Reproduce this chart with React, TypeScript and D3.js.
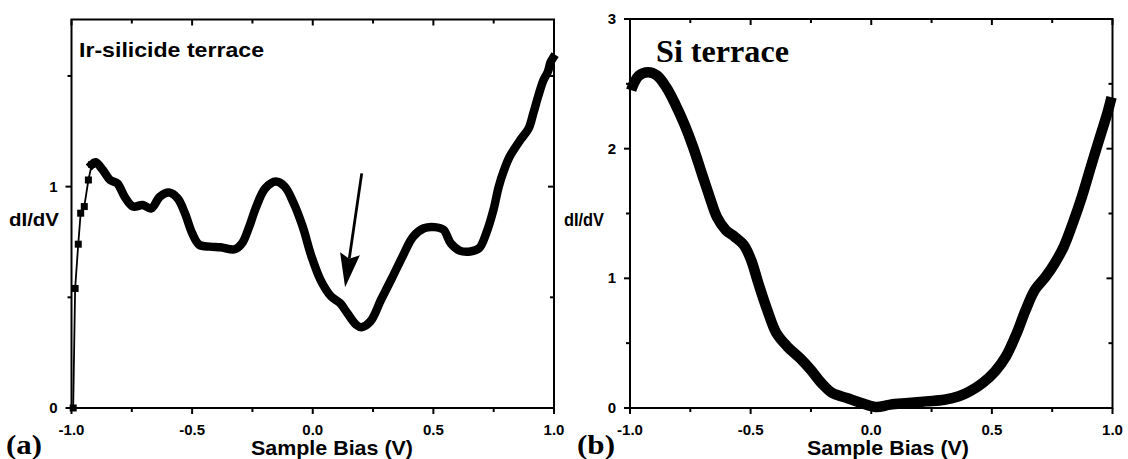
import React from "react";
import * as d3 from "d3";

// ---------- data ----------
const X_MAJOR = [-1, -0.5, 0, 0.5, 1];
const X_LABELS = ["-1.0", "-0.5", "0.0", "0.5", "1.0"];
const X_MINOR = [-0.75, -0.25, 0.25, 0.75];

const LEFT_Y_MAJOR = [0, 1];
const LEFT_Y_LABELS = ["0", "1"];
const LEFT_Y_MINOR = [0.5, 1.5];

const RIGHT_Y_MAJOR = [0, 1, 2, 3];
const RIGHT_Y_LABELS = ["0", "1", "2", "3"];
const RIGHT_Y_MINOR = [0.5, 1.5, 2.5];

// Ir-silicide terrace dI/dV (sparse start, then dense)
const IR_X = [
  -0.993, -0.985, -0.972, -0.962, -0.947, -0.93, -0.916, -0.9,
  -0.87, -0.84, -0.81, -0.78, -0.745, -0.705, -0.67, -0.633, -0.596, -0.56,
  -0.53, -0.5, -0.47, -0.426, -0.382, -0.323, -0.293, -0.263, -0.234, -0.197,
  -0.153, -0.116, -0.079, -0.042, -0.005, 0.032, 0.076, 0.113, 0.143, 0.18,
  0.202, 0.239, 0.283, 0.328, 0.372, 0.416, 0.461, 0.505, 0.542, 0.572,
  0.609, 0.653, 0.69, 0.719, 0.749, 0.771, 0.793, 0.816, 0.86, 0.895,
  0.914, 0.935, 0.956, 0.975, 0.985, 0.995,
];
const IR_Y = [
  0.0, 0.54, 0.74, 0.88, 0.91, 1.03, 1.1, 1.11,
  1.075, 1.03, 1.015, 0.955, 0.91, 0.917, 0.902, 0.955, 0.973, 0.947,
  0.88, 0.79, 0.737, 0.729, 0.726, 0.717, 0.744, 0.82, 0.91, 0.992,
  1.023, 1.0, 0.925, 0.82, 0.684, 0.579, 0.504, 0.474, 0.429, 0.376,
  0.365, 0.391, 0.489, 0.586, 0.684, 0.774, 0.812, 0.817, 0.805, 0.744,
  0.711, 0.707, 0.722, 0.789, 0.895, 1.0, 1.075, 1.135, 1.21, 1.263,
  1.33, 1.41, 1.48, 1.52, 1.56, 1.58,
];
const IR_SPARSE_COUNT = 7; // first points drawn as separate markers

// Si terrace dI/dV
const SI_X = [
  -0.995, -0.985, -0.963, -0.925, -0.888, -0.85, -0.813, -0.775, -0.738, -0.7,
  -0.67, -0.64, -0.603, -0.566, -0.528, -0.498, -0.468, -0.431, -0.393, -0.348,
  -0.296, -0.251, -0.206, -0.161, -0.101, -0.041, 0.019, 0.079, 0.154, 0.228,
  0.303, 0.363, 0.408, 0.461, 0.513, 0.558, 0.603, 0.64, 0.678, 0.723,
  0.76, 0.798, 0.835, 0.873, 0.91, 0.948, 0.978, 0.996,
];
const SI_Y = [
  2.45, 2.5, 2.564, 2.59, 2.564, 2.474, 2.346, 2.19, 2.01, 1.795,
  1.628, 1.474, 1.372, 1.32, 1.256, 1.141, 0.962, 0.756, 0.577, 0.474,
  0.385, 0.295, 0.192, 0.115, 0.077, 0.038, 0.008, 0.026, 0.038, 0.051,
  0.064, 0.09, 0.128, 0.192, 0.282, 0.397, 0.577, 0.756, 0.91, 1.013,
  1.115, 1.244, 1.423, 1.628, 1.859, 2.09, 2.27, 2.397,
];

// arrow annotation in data units (left panel)
const ARROW_FROM = [0.203, 1.06];
const ARROW_TO = [0.134, 0.545];

const SANS = "'Liberation Sans', Arial, sans-serif";
const SERIF = "'Liberation Serif', 'Times New Roman', serif";

type Box = { x0: number; x1: number; y0: number; y1: number };

function Frame({
  box, x, y, yMajor, yLabels, yMinor, yTitle, yTitleLen, xTitleX,
}: any) {
  const MAJ = 6, MIN = 4;
  return (
    <g>
      <rect x={box.x0} y={box.y0} width={box.x1 - box.x0} height={box.y1 - box.y0}
        fill="none" stroke="#000" strokeWidth={2} />
      {X_MAJOR.map((v, i) => (
        <g key={"xm" + i}>
          <line x1={x(v)} x2={x(v)} y1={box.y1} y2={box.y1 + MAJ} stroke="#000" strokeWidth={2} />
          <line x1={x(v)} x2={x(v)} y1={box.y0} y2={box.y0 + MAJ} stroke="#000" strokeWidth={2} />
          <text x={x(v)} y={435} textAnchor="middle" fontFamily={SANS} fontWeight="bold"
            fontSize={15}>{X_LABELS[i]}</text>
        </g>
      ))}
      {X_MINOR.map((v, i) => (
        <g key={"xn" + i}>
          <line x1={x(v)} x2={x(v)} y1={box.y1} y2={box.y1 + MIN} stroke="#000" strokeWidth={2} />
          <line x1={x(v)} x2={x(v)} y1={box.y0} y2={box.y0 + MIN} stroke="#000" strokeWidth={2} />
        </g>
      ))}
      {yMajor.map((v: number, i: number) => (
        <g key={"ym" + i}>
          <line x1={box.x0 - MAJ} x2={box.x0} y1={y(v)} y2={y(v)} stroke="#000" strokeWidth={2} />
          <line x1={box.x1 - MAJ} x2={box.x1} y1={y(v)} y2={y(v)} stroke="#000" strokeWidth={2} />
          <text x={box.x0 - 14} y={y(v) + 5} textAnchor="end" fontFamily={SANS}
            fontWeight="bold" fontSize={15}>{yLabels[i]}</text>
        </g>
      ))}
      {yMinor.map((v: number, i: number) => (
        <g key={"yn" + i}>
          <line x1={box.x0 - MIN} x2={box.x0} y1={y(v)} y2={y(v)} stroke="#000" strokeWidth={2} />
          <line x1={box.x1 - MIN} x2={box.x1} y1={y(v)} y2={y(v)} stroke="#000" strokeWidth={2} />
        </g>
      ))}
      <text x={xTitleX} y={455} fontFamily={SANS} fontWeight="bold" fontSize={21}
        textLength={162} lengthAdjust="spacingAndGlyphs">Sample Bias (V)</text>
      <text x={yTitle} y={226} fontFamily={SANS} fontWeight="bold" fontSize={19}
        textLength={yTitleLen} lengthAdjust="spacingAndGlyphs">dI/dV</text>
    </g>
  );
}

export default function App() {
  const L: Box = { x0: 71.5, x1: 554, y0: 19.5, y1: 408 };
  const R: Box = { x0: 630, x1: 1112.5, y0: 19, y1: 408 };

  const xL = d3.scaleLinear().domain([-1, 1]).range([L.x0, L.x1]);
  const yL = d3.scaleLinear().domain([0, 1.755]).range([L.y1, L.y0]);
  const xR = d3.scaleLinear().domain([-1, 1]).range([R.x0, R.x1]);
  const yR = d3.scaleLinear().domain([0, 3]).range([R.y1, R.y0]);

  const irPts = IR_X.map((v, i) => [v, IR_Y[i]] as [number, number]);
  const siPts = SI_X.map((v, i) => [v, SI_Y[i]] as [number, number]);

  const lineL = d3.line<[number, number]>().x((d) => xL(d[0])).y((d) => yL(d[1]));
  const lineLs = d3.line<[number, number]>().x((d) => xL(d[0])).y((d) => yL(d[1]))
    .curve(d3.curveCatmullRom.alpha(0.5));
  const lineR = d3.line<[number, number]>().x((d) => xR(d[0])).y((d) => yR(d[1]))
    .curve(d3.curveCatmullRom.alpha(0.5));

  // arrow
  const ax0 = xL(ARROW_FROM[0]), ay0 = yL(ARROW_FROM[1]);
  const ax1 = xL(ARROW_TO[0]), ay1 = yL(ARROW_TO[1]);
  const ang = Math.atan2(ay1 - ay0, ax1 - ax0);
  const headLen = 34, headW = 10, notch = 5;
  const ux = Math.cos(ang), uy = Math.sin(ang);
  const px = -uy, py = ux;
  const bx = ax1 - ux * headLen, by = ay1 - uy * headLen;
  const nx = ax1 - ux * (headLen - notch), ny = ay1 - uy * (headLen - notch);
  const head = [
    [ax1, ay1], [bx + px * headW, by + py * headW], [nx, ny], [bx - px * headW, by - py * headW],
  ].map((p) => p.join(",")).join(" ");

  return (
    <svg width={1128} height={459} style={{ position: "absolute", left: 0, top: 0, background: "#fff" }}>
      <rect x={0} y={0} width={1128} height={459} fill="#fff" />
      <Frame box={L} x={xL} y={yL} yMajor={LEFT_Y_MAJOR} yLabels={LEFT_Y_LABELS}
        yMinor={LEFT_Y_MINOR} yTitle={9} yTitleLen={50} xTitleX={251} />
      <Frame box={R} x={xR} y={yR} yMajor={RIGHT_Y_MAJOR} yLabels={RIGHT_Y_LABELS}
        yMinor={RIGHT_Y_MINOR} yTitle={564} yTitleLen={40} xTitleX={807} />

      {/* left curve */}
      <path d={lineL(irPts.slice(0, IR_SPARSE_COUNT + 1)) || ""} fill="none" stroke="#000" strokeWidth={1.8} />
      <path d={lineLs(irPts.slice(IR_SPARSE_COUNT - 1)) || ""} fill="none" stroke="#000"
        strokeWidth={8.5} strokeLinejoin="round" strokeLinecap="square" />
      {irPts.slice(0, IR_SPARSE_COUNT).map((d, i) => (
        <rect key={i} x={xL(d[0]) - 3.5} y={yL(d[1]) - 3.5} width={7} height={7} fill="#000" />
      ))}

      {/* right curve */}
      <path d={lineR(siPts) || ""} fill="none" stroke="#000" strokeWidth={10.5}
        strokeLinejoin="round" strokeLinecap="butt" />

      {/* arrow */}
      <line x1={ax0} y1={ay0} x2={nx} y2={ny} stroke="#000" strokeWidth={2.8} />
      <polygon points={head} fill="#000" />

      {/* annotations */}
      <text x={79} y={57} fontFamily={SANS} fontWeight="bold" fontSize={21}
        textLength={185} lengthAdjust="spacingAndGlyphs">Ir-silicide terrace</text>
      <text x={656} y={62} fontFamily={SERIF} fontWeight="bold" fontSize={31}
        textLength={133} lengthAdjust="spacingAndGlyphs">Si terrace</text>
      <text x={6} y={454} fontFamily={SERIF} fontWeight="bold" fontSize={28}
        textLength={36} lengthAdjust="spacingAndGlyphs">(a)</text>
      <text x={577} y={454} fontFamily={SERIF} fontWeight="bold" fontSize={28}
        textLength={38} lengthAdjust="spacingAndGlyphs">(b)</text>
    </svg>
  );
}
